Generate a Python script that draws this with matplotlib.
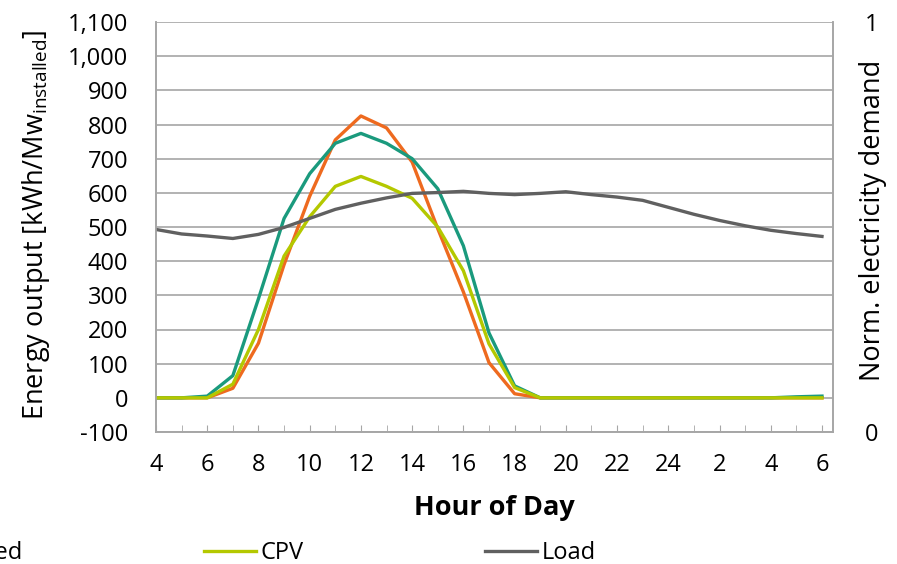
import numpy as np
import matplotlib
matplotlib.use("Agg")
import matplotlib.pyplot as plt
from matplotlib.ticker import FuncFormatter

plt.rcParams['font.family'] = ['Open Sans', 'DejaVu Sans']

hours = list(range(4, 31))
hour_tick_labels = [str(h if h <= 24 else h - 24) for h in range(4, 31, 2)]

pv_fixed = [0, 0, 0, 28, 160, 390, 590, 755, 825, 790, 690, 495, 310, 103, 12,
            0, 0, 0, 0, 0, 0, 0, 0, 0, 0, 0, 0]
pv_tracked = [0, 0, 5, 65, 290, 525, 656, 745, 774, 745, 700, 612, 445, 190, 35,
              0, 0, 0, 0, 0, 0, 0, 0, 0, 0, 3, 5]
cpv = [0, 0, 0, 40, 200, 415, 530, 619, 648, 619, 584, 500, 372, 158, 30,
       0, 0, 0, 0, 0, 0, 0, 0, 0, 0, 0, 0]
load = [0.494, 0.483, 0.478, 0.472, 0.482, 0.499, 0.521, 0.543, 0.558, 0.571,
        0.582, 0.584, 0.587, 0.582, 0.579, 0.582, 0.586, 0.579, 0.573, 0.565,
        0.548, 0.531, 0.516, 0.503, 0.492, 0.484, 0.477]

c_orange = '#EE6A1F'
c_teal = '#1A9A7D'
c_lime = '#B4C800'
c_gray = '#606060'
grid_c = '#A6A6A6'

fig = plt.figure(figsize=(8.97, 5.64), dpi=100)
ax = fig.add_axes([156/897, 1-432/564, (833-156)/897, (432-22)/564])
ax2 = ax.twinx()

l1, = ax.plot(hours, pv_fixed, color=c_orange, lw=2.4, zorder=3)
l2, = ax.plot(hours, pv_tracked, color=c_teal, lw=2.4, zorder=3)
l3, = ax.plot(hours, cpv, color=c_lime, lw=2.4, zorder=4)
l4, = ax2.plot(hours, load, color=c_gray, lw=2.4)

ax.set_xlim(4, 30.43)
ax.set_ylim(-100, 1100)
ax2.set_ylim(0, 1)

ax.set_yticks(np.arange(-100, 1101, 100))
ax.yaxis.set_major_formatter(FuncFormatter(lambda v, p: f"{int(v):,}"))
ax.set_xticks(list(range(4, 31, 2)))
ax.set_xticklabels(hour_tick_labels)
ax.set_xticks(hours, minor=True)

ax.grid(axis='y', color=grid_c, lw=1.2)
ax.set_axisbelow(True)

for a in (ax, ax2):
    for s in a.spines.values():
        s.set_color(grid_c)
        s.set_linewidth(1.2)
    a.spines['top'].set_visible(False)

fs_tick = 17
ax.tick_params(axis='y', length=0, pad=20, labelsize=fs_tick, colors='black')
ax.tick_params(axis='x', which='both', direction='in', length=5, color=grid_c,
               pad=15, labelsize=fs_tick)
ax2.set_yticks([0, 1])
ax2.tick_params(axis='y', length=0, pad=23, labelsize=fs_tick)

ax.set_ylabel(r"Energy output [kWh/Mw$_{\mathregular{installed}}$]", fontsize=19.5)
ax.yaxis.set_label_coords(-0.153, 0.505)
ax.set_xlabel("Hour of Day", fontsize=19.5, fontweight='bold', labelpad=13)
ax2.set_ylabel("Norm. electricity demand", fontsize=19.5)
ax2.yaxis.set_label_coords(1.038, 0.517)

fig.legend([l1, l2, l3, l4], ["PV fixed", "PV tracked", "CPV", "Load"],
           ncol=4, loc='center right', bbox_to_anchor=(596/897, 1-553/564),
           frameon=False, fontsize=17, handlelength=2.2, handletextpad=0.2,
           columnspacing=7.7, borderpad=0, borderaxespad=0)

fig.savefig("out.png", dpi=100)
